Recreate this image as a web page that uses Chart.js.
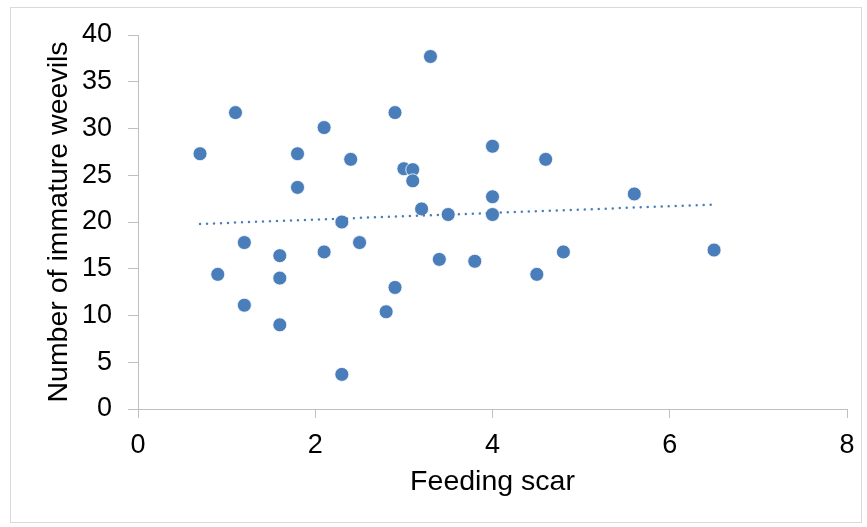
<!DOCTYPE html>
<html>
<head>
<meta charset="utf-8">
<script src="https://cdn.jsdelivr.net/npm/chart.js@4/dist/chart.umd.min.js"></script>
<style>
  html, body { margin: 0; padding: 0; background: #fff; }
  #wrap { position: relative; width: 867px; height: 527px; }
  #frame { position: absolute; left: 10px; top: 7px; width: 850px; height: 514px; border: 1px solid #d9d9d9; pointer-events: none; }
</style>
</head>
<body>
<div id="wrap">
  <canvas id="scatter" width="867" height="527"></canvas>
  <div id="frame"></div>
</div>
<script>
const feedingScar = [0.7, 0.9, 1.1, 1.2, 1.2, 1.6, 1.6, 1.6, 1.8, 1.8, 2.1, 2.1, 2.3, 2.3, 2.4, 2.5, 2.8, 2.9,
  2.9, 3.0, 3.1, 3.1, 3.2, 3.3, 3.4, 3.5, 3.8, 4.0, 4.0, 4.0, 4.5, 4.6, 4.8, 5.6, 6.5];
const weevils = [27.3, 14.4, 31.7, 17.8, 11.1, 16.4, 14.0, 9.0, 27.3, 23.7, 30.1, 16.8, 20.0, 3.7, 26.7, 17.8, 10.4, 31.7,
  13.0, 25.7, 25.6, 24.4, 21.4, 37.7, 16.0, 20.8, 15.8, 28.1, 22.7, 20.8, 14.4, 26.7, 16.8, 23.0, 17.0];
const xTicks = [0, 2, 4, 6, 8];
const yTicks = [0, 5, 10, 15, 20, 25, 30, 35, 40];

// least squares trend line through the points
function linearTrend(xs, ys) {
  const n = xs.length;
  const mx = xs.reduce((a, b) => a + b, 0) / n;
  const my = ys.reduce((a, b) => a + b, 0) / n;
  let sxy = 0, sxx = 0;
  for (let i = 0; i < n; i++) {
    sxy += (xs[i] - mx) * (ys[i] - my);
    sxx += (xs[i] - mx) * (xs[i] - mx);
  }
  const slope = sxy / sxx;
  return x => my + slope * (x - mx);
}

document.addEventListener("DOMContentLoaded", () => {
  const trend = linearTrend(feedingScar, weevils);
  const xMin = Math.min(...feedingScar);
  const xMax = Math.max(...feedingScar);
  const points = feedingScar.map((x, i) => ({ x: x, y: weevils[i] }));
  const tickFont = { family: "'Liberation Sans', Arial, sans-serif", size: 27 };
  const titleFont = { family: "'Liberation Sans', Arial, sans-serif", size: 28.5 };

  new Chart(document.getElementById("scatter"), {
    type: "scatter",
    data: {
      datasets: [
        {
          label: "Trend",
          type: "line",
          data: [{ x: xMin, y: trend(xMin) }, { x: xMax, y: trend(xMax) }],
          borderColor: "#4a7ebb",
          borderWidth: 2.5,
          borderDash: [0, 7],
          borderCapStyle: "round",
          pointRadius: 0,
          fill: false
        },
        {
          label: "Immature weevils",
          data: points,
          backgroundColor: "#4a7ebb",
          borderColor: "#ffffff",
          borderWidth: 0.8,
          pointRadius: 7,
          pointHoverRadius: 7
        }
      ]
    },
    options: {
      responsive: false,
      animation: false,
      layout: { padding: { top: 35, right: 20, left: 0, bottom: 0 } },
      plugins: { legend: { display: false }, tooltip: { enabled: false } },
      scales: {
        x: {
          type: "linear",
          min: 0,
          max: 8,
          afterBuildTicks: s => { s.ticks = xTicks.map(v => ({ value: v })); },
          afterFit: s => { s.height = 118; },
          grid: { drawOnChartArea: false, drawTicks: true, tickLength: 9, color: "#bfbfbf" },
          border: { color: "#bfbfbf", width: 1 },
          ticks: { color: "#000", font: tickFont, padding: 11, maxRotation: 0 },
          title: { display: true, text: "Feeding scar", color: "#000", font: titleFont, padding: { top: 0, bottom: 28 } }
        },
        y: {
          type: "linear",
          min: 0,
          max: 40,
          afterBuildTicks: s => { s.ticks = yTicks.map(v => ({ value: v })); },
          afterFit: s => { s.width = 138; },
          grid: { drawOnChartArea: false, drawTicks: true, tickLength: 10, color: "#bfbfbf" },
          border: { color: "#bfbfbf", width: 1 },
          ticks: { color: "#000", font: tickFont, padding: 16 },
          title: { display: true, text: "Number of immature weevils", color: "#000", font: titleFont, padding: { top: 42, bottom: 0 } }
        }
      }
    }
  });
});
</script>
</body>
</html>
